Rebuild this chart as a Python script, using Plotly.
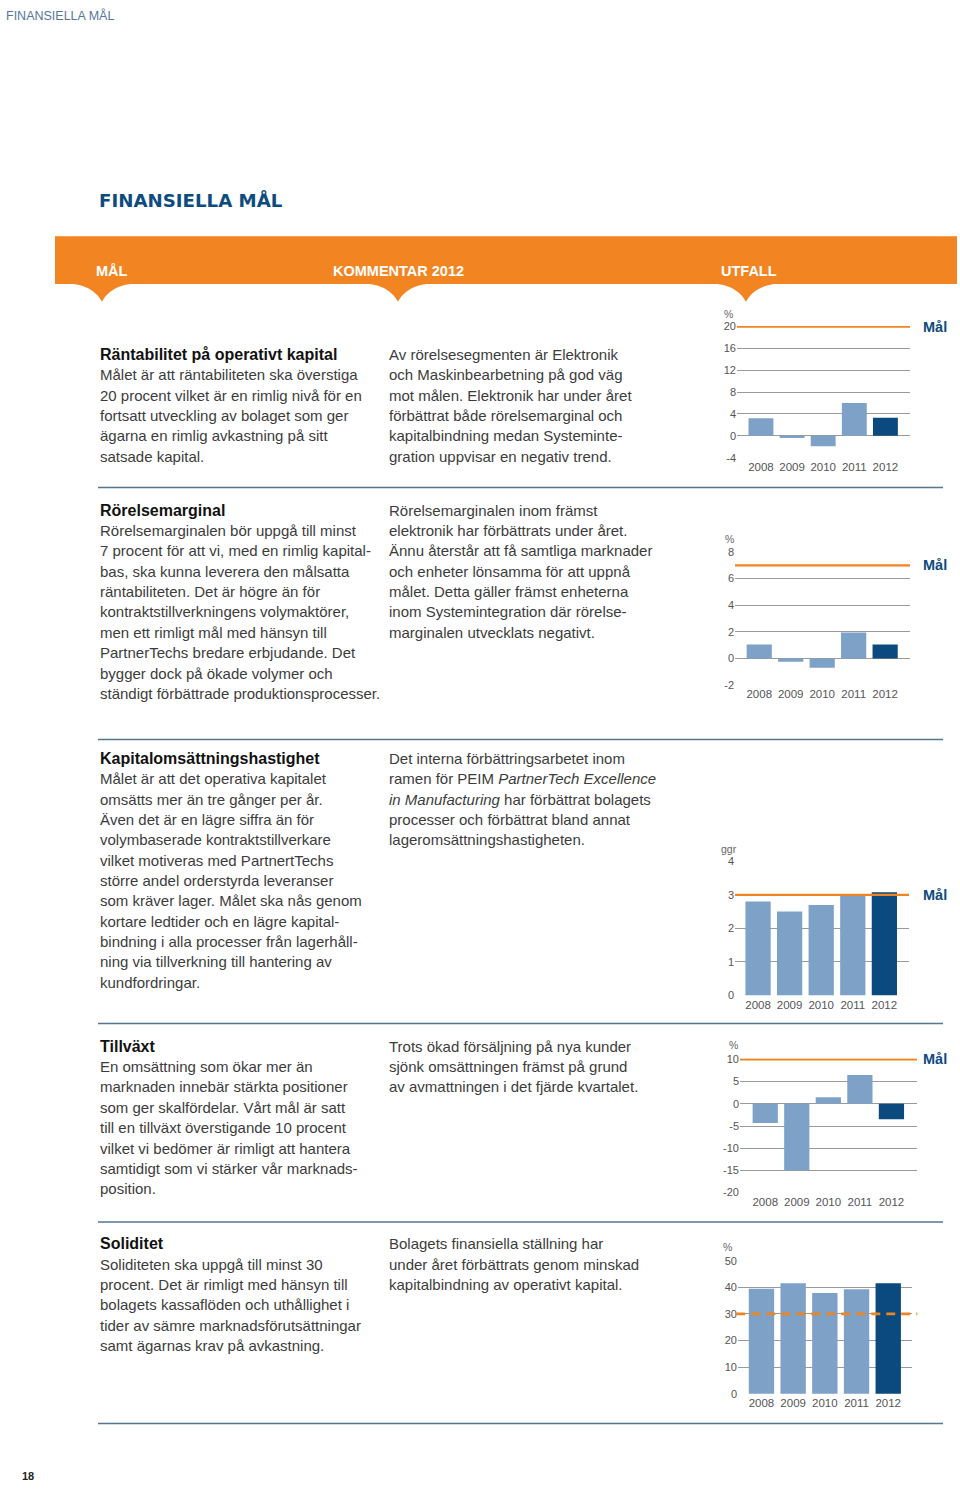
import plotly.graph_objects as go

W, H = 960, 1489

# ---------------- data ----------------
years = ["2008", "2009", "2010", "2011", "2012"]
roce = [3.2, -0.4, -1.9, 6.0, 3.3]            # Räntabilitet på operativt kapital, %
op_margin = [1.05, -0.25, -0.7, 1.95, 1.05]   # Rörelsemarginal, %
turnover = [2.8, 2.5, 2.7, 3.0, 3.08]         # Kapitalomsättningshastighet, ggr
growth = [-4.3, -15.0, 1.5, 6.5, -3.5]        # Tillväxt, %
equity = [39.4, 41.5, 37.8, 39.3, 41.5]       # Soliditet, %
targets = [20, 7, 3, 10, 30]
units = ["%", "%", "ggr", "%", "%"]
ytick_sets = [
    [-4, 0, 4, 8, 12, 16, 20],
    [-2, 0, 2, 4, 6, 8],
    [0, 1, 2, 3, 4],
    [-20, -15, -10, -5, 0, 5, 10],
    [0, 10, 20, 30, 40, 50],
]
target_label = "Mål"

# ---------------- style ----------------
LIGHT = "#7EA1C7"
DARK = "#0B4A7E"
ORANGE = "#F0841F"
HEAD_ORANGE = "#F28522"
NAVY = "#0E4B7F"
GRID = "#9A9A9A"
TXT = "#3c3c3c"
BODY_FONT = "Liberation Sans, Arial"

def px(x):
    return x / W

def py(y):
    return 1 - y / H

# chart geometry (pixels): grid x0,x1, top,bottom, y-range, x-range
charts = [
    dict(vals=roce, gx=(737, 910), gy=(322.4, 455.6), yr=(-4.1, 20.1), xr=(-0.77, 4.79), unit_xy=(728, 310), dashed=False, mal=True),
    dict(vals=op_margin, gx=(735, 910), gy=(549.4, 684.8), yr=(-2.05, 8.05), xr=(-0.77, 4.79), unit_xy=(729, 537), dashed=False, mal=True),
    dict(vals=turnover, gx=(735, 909), gy=(861.0, 997.4), yr=(-0.02, 4.02), xr=(-0.73, 4.78), unit_xy=(729, 849), dashed=False, mal=True),
    dict(vals=growth, gx=(740, 917), gy=(1060.4, 1196.3), yr=(-20.2, 10.2), xr=(-0.80, 4.81), unit_xy=(733, 1047), dashed=False, mal=True),
    dict(vals=equity, gx=(738, 912), gy=(1263.2, 1398.8), yr=(-0.3, 50.3), xr=(-0.74, 4.75), unit_xy=(727, 1250), dashed=True, mal=False),
]

fig = go.Figure()
annotations = []
shapes = []
layout_axes = {}

for i, c in enumerate(charts):
    n = "" if i == 0 else str(i + 1)
    xa, ya = "x" + n, "y" + n
    colors = [LIGHT] * (len(years) - 1) + [DARK]
    fig.add_trace(go.Bar(x=years, y=c["vals"], marker=dict(color=colors, line=dict(width=0)),
                         width=0.8, xaxis=xa, yaxis=ya, showlegend=False, hoverinfo="x+y"))
    layout_axes["xaxis" + n] = dict(
        domain=[px(c["gx"][0]), px(c["gx"][1])], anchor=ya, type="category",
        range=list(c["xr"]), showgrid=False, zeroline=False, showline=False, ticks="",
        tickfont=dict(family="Liberation Sans, Arial", size=11.5, color="#555"), fixedrange=True)
    layout_axes["yaxis" + n] = dict(
        domain=[py(c["gy"][1]), py(c["gy"][0])], anchor=xa, range=list(c["yr"]),
        tickvals=ytick_sets[i], ticktext=[str(v) for v in ytick_sets[i]],
        showgrid=True, gridcolor=GRID, gridwidth=1, zeroline=False,
        showline=False, ticks="", tickfont=dict(family="Liberation Sans, Arial", size=11, color="#555"),
        fixedrange=True)
    # target line
    if c["dashed"]:
        tline = dict(color=ORANGE, width=2.6, dash="9px,6px")
        x0, x1 = -0.01, 1.03
    else:
        tline = dict(color=ORANGE, width=2.2)
        x0, x1 = 0, 1
    shapes.append(dict(type="line", xref=xa + " domain", yref=ya, x0=x0, x1=x1,
                       y0=targets[i], y1=targets[i], line=tline, layer="above"))
    if c["mal"]:
        annotations.append(dict(xref="paper", yref=ya, x=px(921), y=targets[i], text="<b>%s</b>" % target_label,
                                showarrow=False, xanchor="left", yanchor="middle",
                                font=dict(family="Liberation Sans, Arial", size=14.5, color=NAVY)))
    annotations.append(dict(xref="paper", yref="paper", x=px(c["unit_xy"][0]), y=py(c["unit_xy"][1]), text=units[i],
                            showarrow=False, xanchor="center", yanchor="middle",
                            font=dict(family="Liberation Sans, Arial", size=10.5, color="#666")))

# ---------------- page text ----------------
def add_text(x, y, text, size=15, color=TXT, family=BODY_FONT):
    annotations.append(dict(xref="paper", yref="paper", x=px(x), y=py(y), text=text, showarrow=False,
                            xanchor="left", yanchor="middle", font=dict(family=family, size=size, color=color)))

def add_block(x, y0, lines, bold_first=False):
    for k, t in enumerate(lines):
        if k == 0 and bold_first:
            add_text(x, y0, "<b>%s</b>" % t, size=16, color="#111")
        else:
            add_text(x, y0 + 20.5 * k, t)

add_text(4, 10, "FINANSIELLA MÅL", size=12.5, color="#56779A", family="Liberation Sans, Arial")
add_text(97, 195, "<b>FINANSIELLA MÅL</b>", size=18.2, color=NAVY, family="DejaVu Sans, Arial Black")
add_text(20, 1481, "<b>18</b>", size=11, color="#222", family="Liberation Sans, Arial")

for xx, t in [(94, "MÅL"), (331, "KOMMENTAR 2012"), (719, "UTFALL")]:
    add_text(xx, 267, "<b>%s</b>" % t, size=14.5, color="white", family="Liberation Sans, Arial")

sections = [
    (351,
     ["Räntabilitet på operativt kapital",
      "Målet är att räntabiliteten ska överstiga",
      "20 procent vilket är en rimlig nivå för en",
      "fortsatt utveckling av bolaget som ger",
      "ägarna en rimlig avkastning på sitt",
      "satsade kapital."],
     ["Av rörelsesegmenten är Elektronik",
      "och Maskinbearbetning på god väg",
      "mot målen. Elektronik har under året",
      "förbättrat både rörelsemarginal och",
      "kapitalbindning medan Systeminte-",
      "gration uppvisar en negativ trend."]),
    (508,
     ["Rörelsemarginal",
      "Rörelsemarginalen bör uppgå till minst",
      "7 procent för att vi, med en rimlig kapital-",
      "bas, ska kunna leverera den målsatta",
      "räntabiliteten. Det är högre än för",
      "kontraktstillverkningens volymaktörer,",
      "men ett rimligt mål med hänsyn till",
      "PartnerTechs bredare erbjudande. Det",
      "bygger dock på ökade volymer och",
      "ständigt förbättrade produktionsprocesser."],
     ["Rörelsemarginalen inom främst",
      "elektronik har förbättrats under året.",
      "Ännu återstår att få samtliga marknader",
      "och enheter lönsamma för att uppnå",
      "målet. Detta gäller främst enheterna",
      "inom Systemintegration där rörelse-",
      "marginalen utvecklats negativt."]),
    (758,
     ["Kapitalomsättningshastighet",
      "Målet är att det operativa kapitalet",
      "omsätts mer än tre gånger per år.",
      "Även det är en lägre siffra än för",
      "volymbaserade kontraktstillverkare",
      "vilket motiveras med PartnertTechs",
      "större andel orderstyrda leveranser",
      "som kräver lager. Målet ska nås genom",
      "kortare ledtider och en lägre kapital-",
      "bindning i alla processer från lagerhåll-",
      "ning via tillverkning till hantering av",
      "kundfordringar."],
     ["Det interna förbättringsarbetet inom",
      "ramen för PEIM <i>PartnerTech Excellence</i>",
      "<i>in Manufacturing</i> har förbättrat bolagets",
      "processer och förbättrat bland annat",
      "lageromsättningshastigheten."]),
    (1048,
     ["Tillväxt",
      "En omsättning som ökar mer än",
      "marknaden innebär stärkta positioner",
      "som ger skalfördelar. Vårt mål är satt",
      "till en tillväxt överstigande 10 procent",
      "vilket vi bedömer är rimligt att hantera",
      "samtidigt som vi stärker vår marknads-",
      "position."],
     ["Trots ökad försäljning på nya kunder",
      "sjönk omsättningen främst på grund",
      "av avmattningen i det fjärde kvartalet."]),
    (1247,
     ["Soliditet",
      "Soliditeten ska uppgå till minst 30",
      "procent. Det är rimligt med hänsyn till",
      "bolagets kassaflöden och uthållighet i",
      "tider av sämre marknadsförutsättningar",
      "samt ägarnas krav på avkastning."],
     ["Bolagets finansiella ställning har",
      "under året förbättrats genom minskad",
      "kapitalbindning av operativt kapital."]),
]
for y0, left, mid in sections:
    add_block(98, y0, left, bold_first=True)
    add_block(387, y0, mid)

# ---------------- decorative shapes ----------------
shapes.append(dict(type="rect", xref="paper", yref="paper", x0=px(55), x1=px(957), y0=py(280), y1=py(232),
                   fillcolor=HEAD_ORANGE, line=dict(width=0), layer="below"))

def notch(cx):
    pts = [(cx - 42, 279), (cx - 20, 279), (cx - 7, 285), (cx, 298), (cx + 7, 285), (cx + 20, 279), (cx + 42, 279)]
    p = [(px(a), py(b)) for a, b in pts]
    return ("M %.5f,%.5f C %.5f,%.5f %.5f,%.5f %.5f,%.5f C %.5f,%.5f %.5f,%.5f %.5f,%.5f Z"
            % tuple(v for pt in p for v in pt))

for cx in (102, 398, 746):
    shapes.append(dict(type="path", xref="paper", yref="paper", path=notch(cx),
                       fillcolor=HEAD_ORANGE, line=dict(width=0), layer="below"))

for yy in (485, 739, 1025, 1225, 1428):
    shapes.append(dict(type="line", xref="paper", yref="paper", x0=px(98), x1=px(943), y0=py(yy), y1=py(yy),
                       line=dict(color="#557591", width=1.5), layer="below"))

fig.update_layout(
    width=W, height=H, margin=dict(l=0, r=0, t=0, b=0, pad=0),
    paper_bgcolor="white", plot_bgcolor="rgba(0,0,0,0)",
    annotations=annotations, shapes=shapes, showlegend=False,
    **layout_axes,
)

fig.write_html("out.html", config={"displayModeBar": False},
               post_script="document.body.style.margin='0';document.body.style.overflow='hidden';")
